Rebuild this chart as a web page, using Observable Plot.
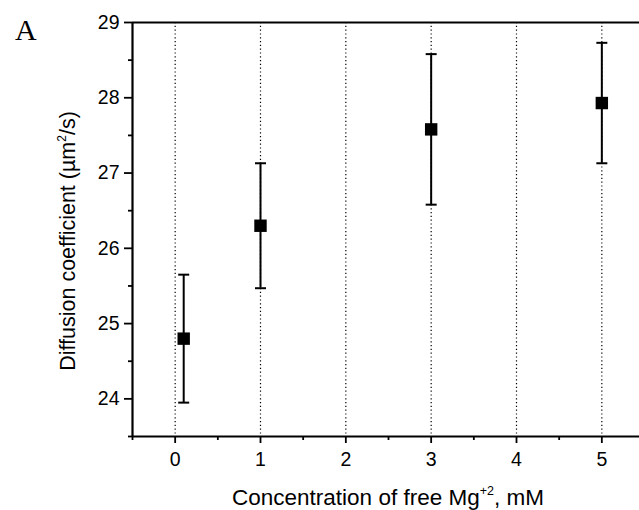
<!DOCTYPE html>
<html>
<head>
<meta charset="utf-8">
<script src="https://cdn.jsdelivr.net/npm/d3@7"></script>
<script src="https://cdn.jsdelivr.net/npm/@observablehq/plot@0.6"></script>
<style>
  html, body { margin: 0; padding: 0; background: #fff; overflow: hidden; }
  #chart { width: 639px; height: 510px; overflow: hidden; }
  #chart svg { display: block; max-width: none; }
  #chart g[aria-label="x-axis tick label"] text,
  #chart g[aria-label="y-axis tick label"] text { font-size: 19.5px; }
</style>
</head>
<body>
<div id="chart"></div>
<script>
// Free Mg2+ concentration (mM) and measured diffusion coefficient (µm²/s) with error
const concentration = [0.1, 1, 3, 5];
const diffusion = [24.8, 26.3, 27.58, 27.93];
const errorBar = [0.85, 0.83, 1.0, 0.8];

const xMajorTicks = [0, 1, 2, 3, 4, 5];
const xMinorTicks = [-0.5, 0.5, 1.5, 2.5, 3.5, 4.5];
const yMajorTicks = [24, 25, 26, 27, 28, 29];
const yMinorTicks = [23.5, 24.5, 25.5, 26.5, 27.5, 28.5];

const rows = concentration.map((c, i) => ({
  c, d: diffusion[i], lo: diffusion[i] - errorBar[i], hi: diffusion[i] + errorBar[i]
}));

const font = "Liberation Sans, Arial, Helvetica, sans-serif";

// horizontal cap drawn at each end of an error bar
const capSymbol = {
  draw(context) {
    context.moveTo(-5.5, 0);
    context.lineTo(5.5, 0);
  }
};

const plot = Plot.plot({
  width: 646,
  height: 510,
  marginLeft: 132,
  marginRight: 2,
  marginTop: 22,
  marginBottom: 74,
  style: { fontFamily: font, fontSize: "19px", color: "#000", background: "#fff" },
  x: { domain: [-0.5, 5.5] },
  y: { domain: [23.5, 29] },
  marks: [
    // dotted vertical grid at the integer concentrations
    Plot.ruleX(xMajorTicks, { stroke: "#000", strokeWidth: 1.2, strokeDasharray: "1.2,2.6" }),
    // minor ticks
    Plot.axisX({ ticks: xMinorTicks, tickSize: 4, tickFormat: () => "", strokeWidth: 1.8, label: null }),
    Plot.axisY({ ticks: yMinorTicks, tickSize: 4, tickFormat: () => "", strokeWidth: 1.8, label: null }),
    // major ticks with labels
    Plot.axisX({ ticks: xMajorTicks, tickSize: 7, tickPadding: 9, tickFormat: d => String(d), strokeWidth: 1.8, label: null }),
    Plot.axisY({ ticks: yMajorTicks, tickSize: 8, tickPadding: 5, tickFormat: d => String(d), strokeWidth: 1.8, label: null }),
    // frame
    Plot.ruleX([-0.5, 5.5], { stroke: "#000", strokeWidth: 2.2 }),
    Plot.ruleY([23.5, 29], { stroke: "#000", strokeWidth: 2.2 }),
    // error bars with caps
    Plot.ruleX(rows, { x: "c", y1: "lo", y2: "hi", stroke: "#000", strokeWidth: 2 }),
    Plot.dot(rows, { x: "c", y: "lo", symbol: capSymbol, stroke: "#000", strokeWidth: 2, fill: "none" }),
    Plot.dot(rows, { x: "c", y: "hi", symbol: capSymbol, stroke: "#000", strokeWidth: 2, fill: "none" }),
    Plot.dot(rows, { x: "c", y: "d", symbol: "square", r: 7, fill: "#000", stroke: "none" })
  ]
});

const svg = d3.select(plot);

// axis titles
const yTitle = svg.append("text")
  .attr("transform", "translate(75,241) rotate(-90)")
  .attr("text-anchor", "middle")
  .attr("font-family", font).attr("font-size", 21.5).attr("fill", "#000");
yTitle.append("tspan").text("Diffusion coefficient (\u00b5m");
yTitle.append("tspan").attr("font-size", 12).attr("dy", -9).text("2");
yTitle.append("tspan").attr("dy", 9).text("/s)");

const xTitle = svg.append("text")
  .attr("x", 388).attr("y", 505)
  .attr("text-anchor", "middle")
  .attr("font-family", font).attr("font-size", 22.5).attr("fill", "#000");
xTitle.append("tspan").text("Concentration of free Mg");
xTitle.append("tspan").attr("font-size", 12.5).attr("dy", -10).text("+2");
xTitle.append("tspan").attr("dy", 10).text(", mM");

svg.append("text")
  .attr("x", 15).attr("y", 40)
  .attr("text-anchor", "start")
  .attr("font-family", "Liberation Serif, Times New Roman, serif")
  .attr("font-size", 30).attr("fill", "#000")
  .text("A");

document.getElementById("chart").appendChild(plot);
</script>
</body>
</html>
